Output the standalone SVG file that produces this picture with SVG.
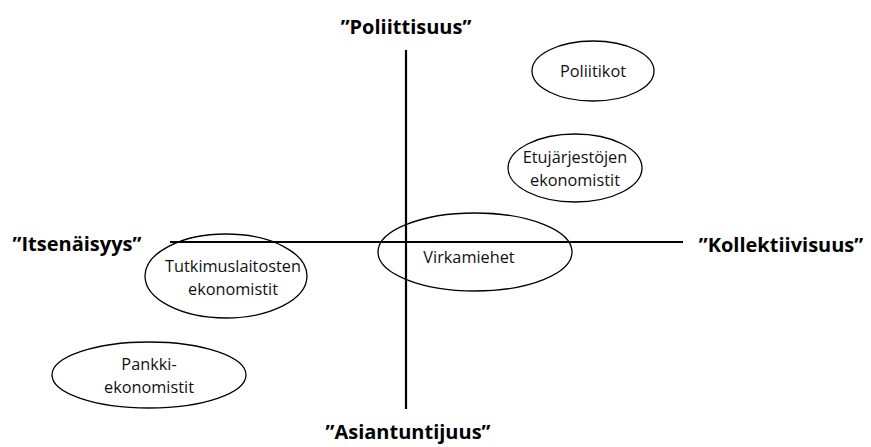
<svg xmlns="http://www.w3.org/2000/svg" width="871" height="447" viewBox="0 0 871 447">
<style>
.ax{stroke:#000;stroke-width:2.2;fill:none}
.nd{stroke:#000;stroke-width:1.3;fill:none}
.t{font-family:"Open Sans","Noto Sans","Liberation Sans",sans-serif;font-size:16.3px;fill:#111;text-anchor:middle}
.h{font-family:"Open Sans","Noto Sans","Liberation Sans",sans-serif;font-size:20px;font-weight:bold;fill:#000;text-anchor:middle}
</style>
<rect width="871" height="447" fill="#fff"/>
<g id="connectors">
<line class="ax" x1="406" y1="50" x2="406" y2="409"/>
<line class="ax" x1="170" y1="242" x2="683" y2="242"/>
</g>
<g id="axis-top"><text class="h" x="406" y="34">”Poliittisuus”</text></g>
<g id="axis-left"><text class="h" x="77" y="251">”Itsenäisyys”</text></g>
<g id="axis-right"><text class="h" x="781" y="252">”Kollektiivisuus”</text></g>
<g id="axis-bottom"><text class="h" x="408" y="439">”Asiantuntijuus”</text></g>
<g id="poliitikot"><ellipse class="nd" cx="593" cy="71" rx="61" ry="30"/><text class="t" x="593" y="77">Poliitikot</text></g>
<g id="etujarjestot"><ellipse class="nd" cx="575" cy="168" rx="67" ry="34"/><text class="t" x="575" y="163">Etujärjestöjen</text><text class="t" x="575" y="186">ekonomistit</text></g>
<g id="virkamiehet"><ellipse class="nd" cx="475" cy="252" rx="97" ry="39"/><text class="t" x="469" y="263">Virkamiehet</text></g>
<g id="tutkimus"><ellipse class="nd" cx="226" cy="276" rx="81" ry="42"/><text class="t" x="233" y="272">Tutkimuslaitosten</text><text class="t" x="233" y="295">ekonomistit</text></g>
<g id="pankki"><ellipse class="nd" cx="149" cy="375" rx="97" ry="33"/><text class="t" x="149" y="370">Pankki-</text><text class="t" x="149" y="393">ekonomistit</text></g>
</svg>
